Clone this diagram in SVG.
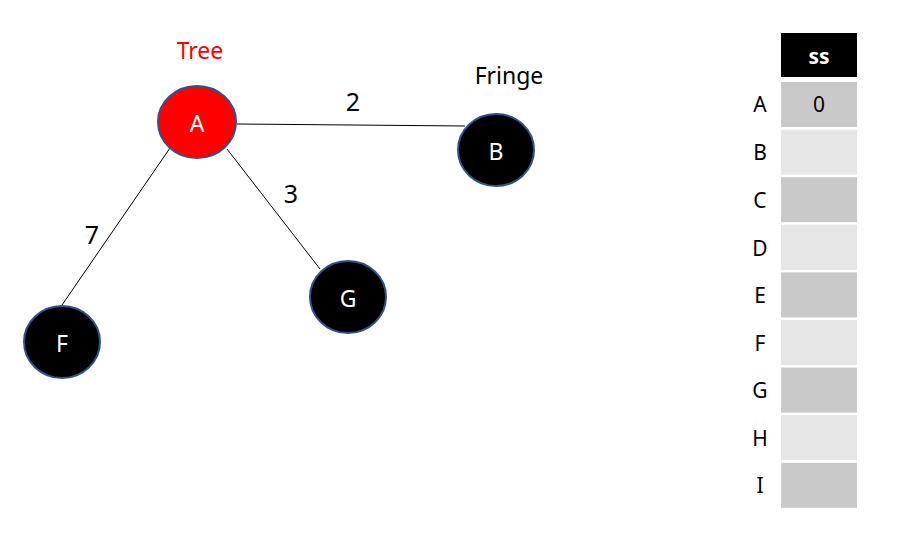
<svg xmlns="http://www.w3.org/2000/svg" width="909" height="533" viewBox="0 0 909 533">
<style>
text{font-family:"Noto Sans","Open Sans","DejaVu Sans",sans-serif;}
.node{stroke:#2F528F;stroke-width:2;}
.nl{fill:#fff;font-size:23px;text-anchor:middle;dominant-baseline:central;}
.el{font-size:25px;text-anchor:middle;dominant-baseline:central;fill:#000;}
.rl{font-size:21px;text-anchor:middle;dominant-baseline:central;fill:#000;}
.dk{fill:#C9C9C9;}
.lt{fill:#E6E6E6;}
</style>
<rect width="909" height="533" fill="#fff"/>
<g id="connectors" stroke="#000" stroke-width="1">
<line x1="237" y1="124" x2="465" y2="126"/>
<line x1="227" y1="149" x2="320" y2="269"/>
<line x1="170" y1="148" x2="62" y2="305"/>
</g>
<g id="edge-labels">
<text class="el" x="353" y="101">2</text>
<text class="el" x="291" y="193">3</text>
<text class="el" x="92" y="234">7</text>
</g>
<text x="200" y="50" font-size="23" fill="#FF0000" text-anchor="middle" dominant-baseline="central">Tree</text>
<text x="509" y="75" font-size="23" fill="#000" text-anchor="middle" dominant-baseline="central">Fringe</text>
<g id="node-A"><ellipse class="node" cx="197" cy="122" rx="39" ry="36" fill="#FF0000"/><text class="nl" x="197" y="123">A</text></g>
<g id="node-B"><ellipse class="node" cx="496" cy="150" rx="38" ry="36" fill="#000"/><text class="nl" x="496" y="151">B</text></g>
<g id="node-G"><ellipse class="node" cx="348" cy="297" rx="38" ry="36" fill="#000"/><text class="nl" x="348" y="298">G</text></g>
<g id="node-F"><ellipse class="node" cx="62" cy="342" rx="38" ry="36" fill="#000"/><text class="nl" x="62" y="343">F</text></g>
<g id="table">
<rect x="781" y="33" width="76" height="44" fill="#000"/>
<text x="819" y="56" font-size="21" font-weight="bold" fill="#fff" text-anchor="middle" dominant-baseline="central">ss</text>
<rect class="dk" x="781" y="82" width="76" height="45"/>
<rect class="lt" x="781" y="129.6" width="76" height="45"/>
<rect class="dk" x="781" y="177.2" width="76" height="45"/>
<rect class="lt" x="781" y="224.8" width="76" height="45"/>
<rect class="dk" x="781" y="272.4" width="76" height="45"/>
<rect class="lt" x="781" y="320" width="76" height="45"/>
<rect class="dk" x="781" y="367.6" width="76" height="45"/>
<rect class="lt" x="781" y="415.2" width="76" height="45"/>
<rect class="dk" x="781" y="462.8" width="76" height="45"/>
<text class="rl" x="819" y="104">0</text>
<text class="rl" x="760" y="104">A</text>
<text class="rl" x="760" y="152">B</text>
<text class="rl" x="760" y="200">C</text>
<text class="rl" x="760" y="248">D</text>
<text class="rl" x="760" y="295">E</text>
<text class="rl" x="760" y="343">F</text>
<text class="rl" x="760" y="390">G</text>
<text class="rl" x="760" y="438">H</text>
<text class="rl" x="760" y="485">I</text>
</g>
</svg>
